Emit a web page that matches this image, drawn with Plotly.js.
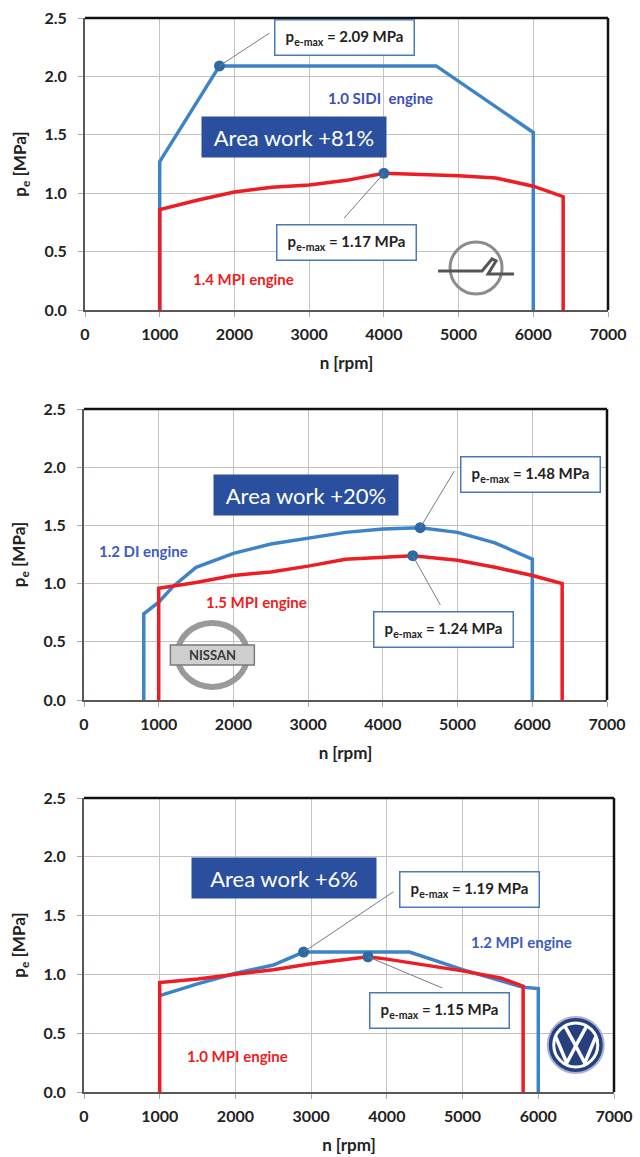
<!DOCTYPE html>
<html><head><meta charset="utf-8">
<script src="https://cdn.plot.ly/plotly-3.0.1.min.js"></script>
<style>html,body{margin:0;padding:0;background:#fff;} #chart{width:640px;height:1157px;}</style>
</head><body><div id="chart"></div>
<script>
// ---------- Panel 1 : Opel ----------
const opelSidiN  = [1000, 1000, 1800, 4700, 6000, 6000];
const opelSidiPe = [0, 1.27, 2.09, 2.09, 1.52, 0];
const opelMpiN   = [1000, 1000, 1500, 2000, 2500, 3000, 3500, 4000, 4500, 5000, 5500, 6000, 6400, 6400];
const opelMpiPe  = [0, 0.86, 0.94, 1.01, 1.05, 1.07, 1.11, 1.17, 1.16, 1.15, 1.13, 1.06, 0.97, 0];
const opelPeakN  = [1800, 4000];
const opelPeakPe = [2.09, 1.17];
// ---------- Panel 2 : Nissan ----------
const nissanDiN   = [800, 800, 1000, 1200, 1500, 2000, 2500, 3000, 3500, 4000, 4500, 5000, 5500, 6000, 6000];
const nissanDiPe  = [0, 0.74, 0.84, 0.98, 1.14, 1.26, 1.34, 1.39, 1.44, 1.47, 1.48, 1.44, 1.35, 1.21, 0];
const nissanMpiN  = [1000, 1000, 1500, 2000, 2500, 3000, 3500, 4000, 4400, 5000, 5500, 6000, 6400, 6400];
const nissanMpiPe = [0, 0.96, 1.01, 1.07, 1.10, 1.15, 1.21, 1.23, 1.24, 1.20, 1.14, 1.07, 1.00, 0];
const nissanPeakN  = [4500, 4400];
const nissanPeakPe = [1.48, 1.24];
// ---------- Panel 3 : VW ----------
const vw12N  = [1000, 1500, 2000, 2500, 2900, 4300, 5000, 5500, 5800, 6000, 6000];
const vw12Pe = [0.82, 0.92, 1.01, 1.08, 1.19, 1.19, 1.04, 0.95, 0.89, 0.88, 0];
const vw10N  = [1000, 1000, 1500, 2000, 2500, 3000, 3500, 3750, 4000, 4500, 5000, 5500, 5800, 5800];
const vw10Pe = [0, 0.93, 0.96, 1.00, 1.04, 1.09, 1.13, 1.15, 1.13, 1.08, 1.03, 0.97, 0.90, 0];
const vwPeakN  = [2900, 3750];
const vwPeakPe = [1.19, 1.15];

const xTickVals = [0, 1000, 2000, 3000, 4000, 5000, 6000, 7000];
const yTickVals = [0, 0.5, 1.0, 1.5, 2.0, 2.5];

const FONT = 'Lato, "Open Sans", "DejaVu Sans", sans-serif';
const BLUE = '#3d83c8', RED = '#ee1c24', MARK = '#2d6aa3';

function lineTrace(x, y, color, xa, ya) {
  return {x: x, y: y, xaxis: xa, yaxis: ya, mode: 'lines', type: 'scatter',
          line: {color: color, width: 3.5}, hoverinfo: 'skip', cliponaxis: false};
}
function markTrace(x, y, xa, ya) {
  return {x: x, y: y, xaxis: xa, yaxis: ya, mode: 'markers', type: 'scatter',
          marker: {color: MARK, size: 11}, hoverinfo: 'skip', cliponaxis: false};
}

const data = [
  lineTrace(opelSidiN, opelSidiPe, BLUE, 'x', 'y'),
  lineTrace(opelMpiN, opelMpiPe, RED, 'x', 'y'),
  markTrace(opelPeakN, opelPeakPe, 'x', 'y'),
  lineTrace(nissanDiN, nissanDiPe, BLUE, 'x2', 'y2'),
  lineTrace(nissanMpiN, nissanMpiPe, RED, 'x2', 'y2'),
  markTrace(nissanPeakN, nissanPeakPe, 'x2', 'y2'),
  lineTrace(vw12N, vw12Pe, BLUE, 'x3', 'y3'),
  lineTrace(vw10N, vw10Pe, RED, 'x3', 'y3'),
  markTrace(vwPeakN, vwPeakPe, 'x3', 'y3')
];

const H = 1157, W = 640;
function axX(l, r, anchor) {
  return {domain: [l / W, r / W], anchor: anchor, range: [0, 7000], tickvals: xTickVals,
          ticktext: xTickVals.map(String), showgrid: true, gridcolor: '#c9c1bd', gridwidth: 1,
          zeroline: false, showline: true, linecolor: '#5e5654', linewidth: 2,
          ticks: 'outside', ticklen: 5, tickcolor: '#aaa', ticklabelstandoff: 4,
          tickfont: {family: FONT, size: 16, color: '#222', weight: 'bold'},
          title: {text: 'n [rpm]', standoff: 15, font: {family: FONT, size: 17, color: '#222', weight: 'bold'}},
          fixedrange: true};
}
function axY(top, bottom, anchor) {
  return {domain: [1 - bottom / H, 1 - top / H], anchor: anchor, range: [0, 2.5], tickvals: yTickVals,
          tickformat: '.1f', showgrid: true, gridcolor: '#c9c1bd', gridwidth: 1,
          zeroline: false, showline: true, linecolor: '#5e5654', linewidth: 2,
          ticks: 'outside', ticklen: 5, tickcolor: '#aaa', ticklabelstandoff: 8,
          tickfont: {family: FONT, size: 16, color: '#222', weight: 'bold'},
          title: {text: 'p<sub>e</sub> [MPa]', standoff: 13, font: {family: FONT, size: 17, color: '#222', weight: 'bold'}},
          fixedrange: true};
}

const peakBox = (txt, x, y, xr, yr) => ({
  text: 'p<sub>e-max</sub> = ' + txt + ' MPa', x: x, y: y, xref: xr, yref: yr, showarrow: false,
  bgcolor: '#ffffff', bordercolor: '#4a7ab5', borderwidth: 1.5, borderpad: 6, width: 126, height: 22,
  font: {family: FONT, size: 15, color: '#222', weight: 'bold'}
});
const areaBox = (txt, x, y, xr, yr) => ({
  text: txt, x: x, y: y, xref: xr, yref: yr, showarrow: false,
  bgcolor: '#2a4f9f', borderpad: 6, width: 172, height: 28,
  font: {family: FONT, size: 22, color: '#ffffff'}
});
const engLabel = (txt, x, y, xr, yr, color) => ({
  text: txt, x: x, y: y, xref: xr, yref: yr, showarrow: false,
  font: {family: FONT, size: 15, color: color, weight: 'bold'}
});

const annotations = [
  peakBox('2.09', 3469, 2.33, 'x', 'y'),
  peakBox('1.17', 3496, 0.578, 'x', 'y'),
  areaBox('Area work +81%', 2801, 1.48, 'x', 'y'),
  engLabel('1.0 SIDI&nbsp; engine', 3951, 1.815, 'x', 'y', '#3d4fb8'),
  engLabel('1.4 MPI engine', 2119, 0.265, 'x', 'y', '#ee1c24'),

  peakBox('1.48', 5981, 1.937, 'x2', 'y2'),
  peakBox('1.24', 4810, 0.61, 'x2', 'y2'),
  areaBox('Area work +20%', 2969, 1.761, 'x2', 'y2'),
  engLabel('1.2 DI engine', 800, 1.283, 'x2', 'y2', '#3d5cc0'),
  engLabel('1.5 MPI engine', 2313, 0.845, 'x2', 'y2', '#ee1c24'),
  {text: 'NISSAN', x: 1718, y: 0.387, xref: 'x2', yref: 'y2', showarrow: false,
   font: {family: FONT, size: 13, color: '#3a3a3a', weight: 'bold'}},

  peakBox('1.19', 5096, 1.718, 'x3', 'y3'),
  peakBox('1.15', 4700, 0.697, 'x3', 'y3'),
  areaBox('Area work +6%', 2636, 1.824, 'x3', 'y3'),
  engLabel('1.2 MPI engine', 5776, 1.278, 'x3', 'y3', '#3d5cc0'),
  engLabel('1.0 MPI engine', 2029, 0.306, 'x3', 'y3', '#ee1c24')
];

const shapes = [];
// plot frame top/right in black
[['x', 'y'], ['x2', 'y2'], ['x3', 'y3']].forEach(([xa, ya]) => {
  shapes.push({type: 'line', xref: xa + ' domain', yref: ya + ' domain', x0: 0, x1: 1, y0: 1, y1: 1,
               line: {color: '#111', width: 2.5}});
  shapes.push({type: 'line', xref: xa + ' domain', yref: ya + ' domain', x0: 1, x1: 1, y0: 0, y1: 1,
               line: {color: '#111', width: 2.5}});
});
// leader lines
function leader(pn, pp, x1, y1, xa, ya) {
  shapes.push({type: 'line', xref: xa, yref: ya, x0: pn, y0: pp, x1: x1, y1: y1,
               line: {color: '#6f7c8c', width: 1}});
}
leader(opelPeakN[0], opelPeakPe[0], 2467, 2.37, 'x', 'y');
leader(opelPeakN[1], opelPeakPe[1], 3469, 0.788, 'x', 'y');
leader(nissanPeakN[0], nissanPeakPe[0], 4957, 1.967, 'x2', 'y2');
leader(nissanPeakN[1], nissanPeakPe[1], 4770, 0.816, 'x2', 'y2');
leader(vwPeakN[0], vwPeakPe[0], 4087, 1.703, 'x3', 'y3');
leader(vwPeakN[1], vwPeakPe[1], 4734, 0.884, 'x3', 'y3');

// logos (pixel-sized decoration)
function pix(obj, xa, ya, xanc, yanc) {
  return Object.assign({xref: xa, yref: ya, xsizemode: 'pixel', ysizemode: 'pixel',
                        xanchor: xanc, yanchor: yanc}, obj);
}
// Opel
shapes.push(pix({type: 'circle', x0: -26, x1: 26, y0: -26, y1: 26, line: {color: '#8c8c8c', width: 3}}, 'x', 'y', 5234, 0.36));
shapes.push(pix({type: 'path', path: 'M -38 -3 L 6 -3 L 16 9 L 20 7 L 12 -6 L 38 -6',
                 line: {color: '#555', width: 3}}, 'x', 'y', 5234, 0.36));
// Nissan
shapes.push(pix({type: 'circle', x0: -35, x1: 35, y0: -32, y1: 32, line: {color: '#9a9a9a', width: 6}}, 'x2', 'y2', 1718, 0.387));
shapes.push(pix({type: 'rect', x0: -42, x1: 42, y0: -10, y1: 10, fillcolor: '#cfcfcf', line: {color: '#7a7a7a', width: 1.5}}, 'x2', 'y2', 1718, 0.387));
// VW
shapes.push(pix({type: 'circle', x0: -28, x1: 28, y0: -28, y1: 28, fillcolor: '#263f7e', line: {color: '#a9b3d0', width: 2}}, 'x3', 'y3', 6495, 0.40));
shapes.push(pix({type: 'circle', x0: -22, x1: 22, y0: -22, y1: 22, line: {color: '#ffffff', width: 3}}, 'x3', 'y3', 6495, 0.40));
shapes.push(pix({type: 'path', path: 'M -11 19 L 0 -1 L 11 19', line: {color: '#ffffff', width: 3.5}}, 'x3', 'y3', 6495, 0.40));
shapes.push(pix({type: 'path', path: 'M -20 8 L -9 -18 L 0 -1 L 9 -18 L 20 8', line: {color: '#ffffff', width: 3.5}}, 'x3', 'y3', 6495, 0.40));

const layout = {
  width: W, height: H, margin: {l: 0, r: 0, t: 0, b: 0},
  paper_bgcolor: '#ffffff', plot_bgcolor: '#ffffff', showlegend: false,
  font: {family: FONT, color: '#222'},
  xaxis: axX(85, 608, 'y'),  yaxis: axY(18, 310, 'x'),
  xaxis2: axX(84, 607, 'y2'), yaxis2: axY(409, 700, 'x2'),
  xaxis3: axX(84, 614, 'y3'), yaxis3: axY(798, 1092, 'x3'),
  annotations: annotations, shapes: shapes
};

Plotly.newPlot('chart', data, layout, {staticPlot: true, displayModeBar: false});
</script>
</body></html>
